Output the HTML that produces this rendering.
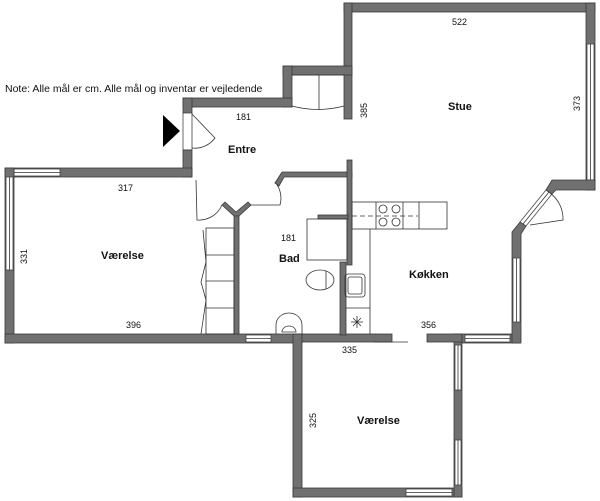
<!DOCTYPE html>
<html><head><meta charset="utf-8"><style>
html,body{margin:0;padding:0;background:#fff;}
svg{display:block;}
text{font-family:"Liberation Sans",sans-serif;fill:#111;}
.l{font-size:9px;}
.b{font-size:11px;font-weight:bold;}
.w{fill:#707070;stroke:#3a3a3a;stroke-width:0.8;}
.win{fill:#fff;stroke:#444;stroke-width:0.8;}
.ln{fill:none;stroke:#333;stroke-width:0.8;}
</style></head><body>
<svg width="600" height="501" viewBox="0 0 600 501" xmlns="http://www.w3.org/2000/svg">
<!-- Stue walls -->
<rect class="w" x="344" y="3" width="251" height="9"/>
<rect class="w" x="344" y="3" width="8" height="116"/>
<rect class="w" x="586" y="3" width="9" height="187"/>
<rect class="win" x="587" y="44" width="7" height="136"/>
<line class="ln" x1="590.5" y1="44" x2="590.5" y2="180"/>
<rect class="w" x="283" y="66" width="69" height="9"/>
<rect class="w" x="283" y="66" width="9" height="41"/>
<rect class="w" x="183" y="98" width="109" height="9"/>
<!-- closet -->
<line class="ln" x1="292" y1="75" x2="344" y2="75"/>
<line class="ln" x1="319" y1="75" x2="319" y2="110"/>
<path class="ln" d="M292 106 Q318 113 344 106"/>
<!-- entrance -->
<rect class="w" x="183" y="98" width="9" height="15"/>
<rect class="win" x="183" y="113" width="9" height="37"/>
<rect class="w" x="183" y="150" width="9" height="27"/>
<path class="ln" d="M192 114 L215 138 A25 25 0 0 1 192 148"/>
<polygon points="163,115 180,131 163,147" fill="#000"/>
<!-- Værelse left -->
<rect class="w" x="5" y="168" width="187" height="9"/>
<rect class="win" x="14" y="169" width="46" height="7"/>
<line class="ln" x1="14" y1="172.5" x2="60" y2="172.5"/>
<rect class="w" x="5" y="168" width="9" height="175"/>
<rect class="win" x="6" y="177" width="7" height="93"/>
<line class="ln" x1="9.5" y1="177" x2="9.5" y2="270"/>
<rect class="w" x="5" y="334" width="297" height="9"/>
<rect class="win" x="246" y="335" width="25" height="7"/>
<line class="ln" x1="246" y1="338.5" x2="271" y2="338.5"/>
<!-- lower room -->
<rect class="w" x="293" y="334" width="9" height="163"/>
<rect class="w" x="293" y="488" width="169" height="9"/>
<rect class="win" x="406" y="489" width="46" height="7"/>
<line class="ln" x1="406" y1="492.5" x2="452" y2="492.5"/>
<rect class="w" x="454" y="334" width="8" height="163"/>
<rect class="win" x="455" y="345" width="6" height="45"/>
<rect class="win" x="455" y="440" width="6" height="45"/>
<line class="ln" x1="458" y1="345" x2="458" y2="390"/>
<line class="ln" x1="458" y1="440" x2="458" y2="485"/>
<!-- kitchen bottom wall -->
<rect class="w" x="302" y="334" width="90" height="8"/>
<rect class="w" x="427" y="334" width="35" height="8"/>
<line class="ln" x1="374" y1="342" x2="408" y2="342"/>
<rect class="w" x="462" y="334" width="58" height="9"/>
<rect class="win" x="465" y="335" width="45" height="7"/>
<line class="ln" x1="465" y1="338.5" x2="510" y2="338.5"/>
<!-- right kitchen wall -->
<polygon class="w" points="512,343 512,232 520,222 526,226 521,234 521,343"/>
<rect class="win" x="513" y="258" width="7" height="64"/>
<line class="ln" x1="516.5" y1="258" x2="516.5" y2="322"/>
<!-- angled door frame -->
<polygon class="win" points="520,222 546,190 552,194 526,226"/>
<line class="ln" x1="523" y1="224" x2="549" y2="192"/>
<path class="ln" d="M530 225 L563 220 A32 32 0 0 0 550 193"/>
<!-- upper angled wall -->
<polygon class="w" points="546,190 552,180 595,180 595,190 556,190 552,194"/>
<!-- interior: entre/bad -->
<rect class="w" x="234" y="215" width="5" height="119"/>
<polygon class="w" points="234,216 222,205 225,202 236,212 248,202 251,205 239,216"/>
<path class="ln" d="M196 180 L197 220 A25 25 0 0 0 222 205"/>
<path class="ln" d="M251 205 L280 205 A25 25 0 0 0 275 182"/>
<polygon class="w" points="275,183 282,172 352,172 352,177 284,177 279,186"/>
<rect class="w" x="347" y="160" width="5" height="105"/>
<rect class="w" x="340" y="262" width="6" height="73"/>
<rect class="w" x="318" y="215" width="30" height="4"/>
<!-- bath fixtures -->
<rect class="ln" x="307" y="219" width="40" height="41"/>
<ellipse class="ln" cx="320" cy="280" rx="14" ry="10"/>
<line class="ln" x1="326" y1="271" x2="326" y2="289"/>
<path class="ln" d="M276 334 L276 325 A13 12 0 0 1 302 325 L302 334"/>
<path class="ln" d="M282 332 A7 6 0 0 1 296 332 Z"/>
<!-- wardrobe -->
<rect class="ln" x="206" y="228" width="28" height="106"/>
<line class="ln" x1="206" y1="255" x2="234" y2="255"/>
<line class="ln" x1="206" y1="281" x2="234" y2="281"/>
<line class="ln" x1="206" y1="308" x2="234" y2="308"/>
<path class="ln" d="M203 230 L206 262 L201 282 L206 300 L201 334"/>
<!-- kitchen counters -->
<rect class="ln" x="352" y="202" width="95" height="27"/>
<line class="ln" x1="376" y1="202" x2="376" y2="229"/>
<line class="ln" x1="403" y1="202" x2="403" y2="229"/>
<line class="ln" x1="419" y1="202" x2="419" y2="229"/>
<line x1="352" y1="216" x2="418" y2="216" stroke="#333" stroke-width="0.8" stroke-dasharray="5,3"/>
<circle class="ln" cx="383" cy="209" r="4"/><circle class="ln" cx="396" cy="209" r="4"/>
<circle class="ln" cx="383" cy="222" r="4"/><circle class="ln" cx="396" cy="222" r="4"/>
<line class="ln" x1="370" y1="229" x2="370" y2="334"/>
<line class="ln" x1="346" y1="308" x2="370" y2="308"/>
<rect class="ln" x="345" y="274" width="20" height="23" rx="3"/>
<rect class="ln" x="348" y="277" width="14" height="17" rx="2"/>
<path class="ln" d="M351 322 h12 M357 316 v12 M353 318 l8 8 M361 318 l-8 8"/>
<!-- text -->
<text x="5" y="92" style="font-size:10.5px">Note: Alle mål er cm. Alle mål og inventar er vejledende</text>
<text class="l" x="236" y="120">181</text>
<text class="b" x="228" y="153">Entre</text>
<text class="l" x="118" y="191">317</text>
<text class="b" x="101" y="259">Værelse</text>
<text class="l" transform="translate(27,264) rotate(-90)">331</text>
<text class="l" x="126" y="328">396</text>
<text class="l" x="281" y="241">181</text>
<text class="b" x="279" y="262">Bad</text>
<text class="b" x="409" y="278">Køkken</text>
<text class="l" x="421" y="328">356</text>
<text class="l" x="342" y="353">335</text>
<text class="b" x="357" y="424">Værelse</text>
<text class="l" transform="translate(316,428) rotate(-90)">325</text>
<text class="l" x="452" y="25">522</text>
<text class="b" x="448" y="110">Stue</text>
<text class="l" transform="translate(367,118) rotate(-90)">385</text>
<text class="l" transform="translate(580,111) rotate(-90)">373</text>
</svg>
</body></html>
